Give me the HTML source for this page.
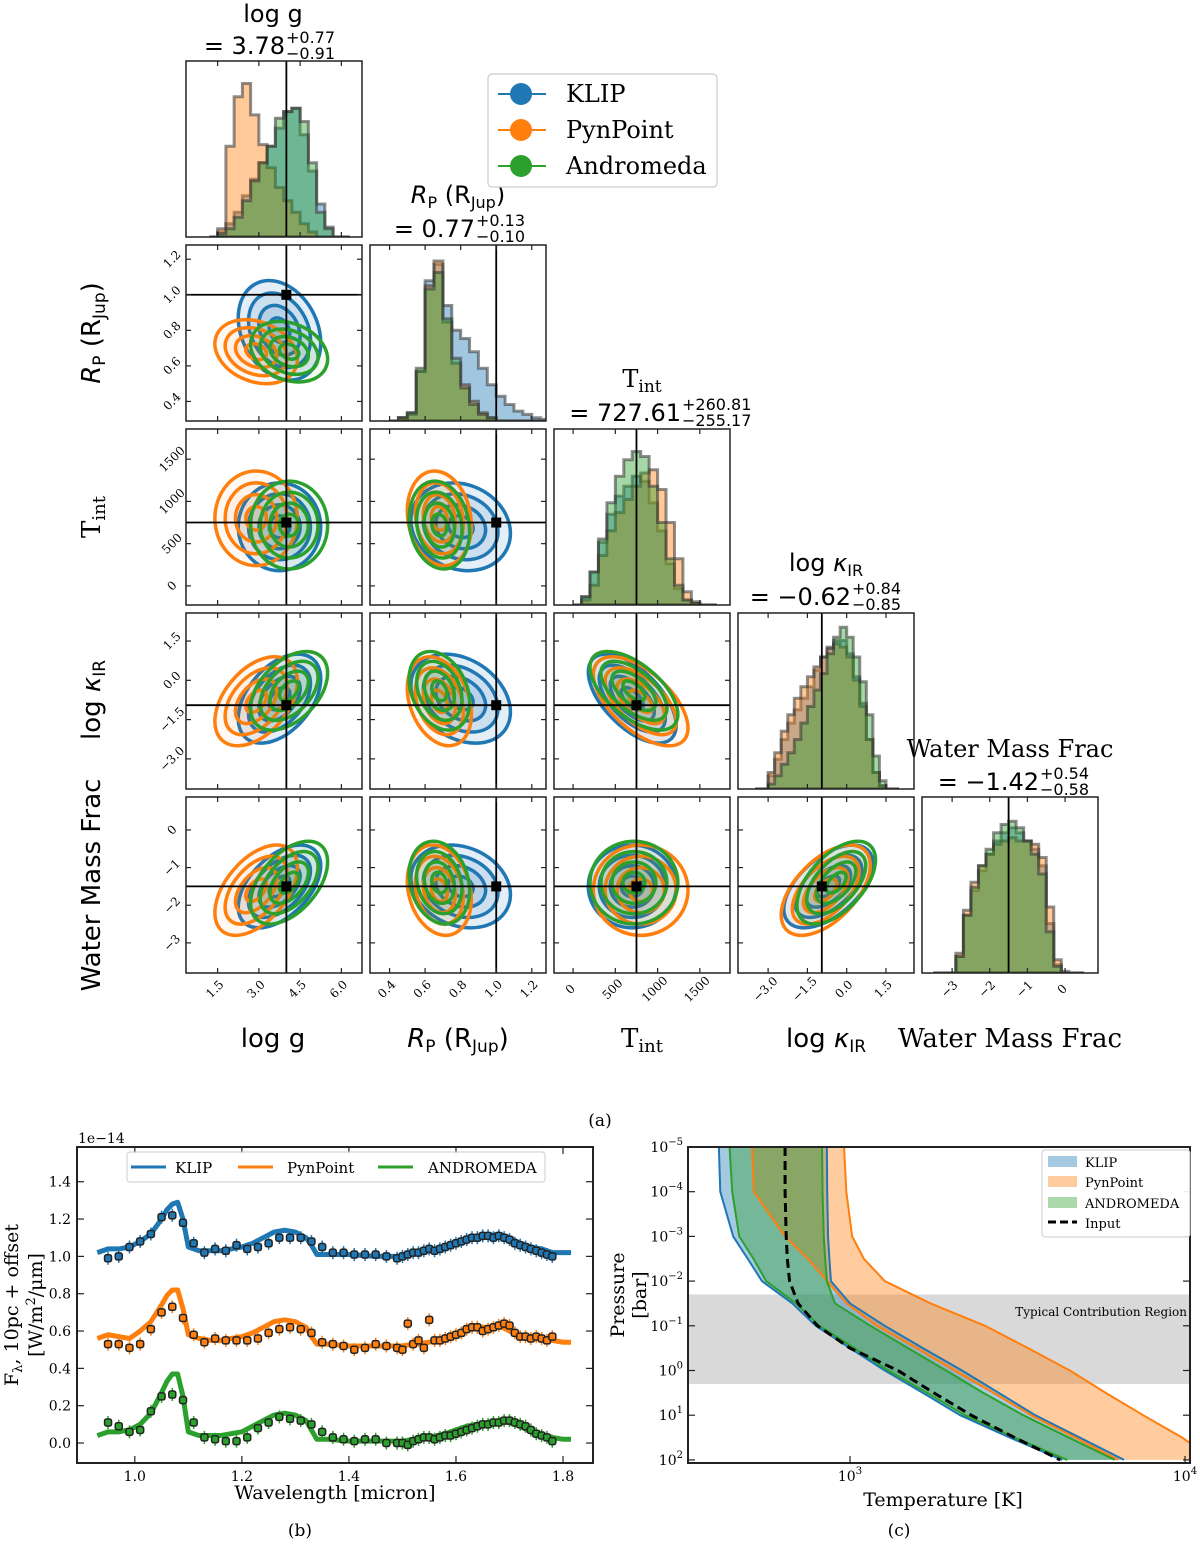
<!DOCTYPE html>
<html><head><meta charset="utf-8"><style>
html,body{margin:0;padding:0;background:#fff}
svg{display:block}
.s{font-family:"DejaVu Sans","Liberation Sans",sans-serif}
.sf{font-family:"DejaVu Serif","Liberation Serif",serif}
</style></head><body>
<svg id="fig" width="1200" height="1554" viewBox="0 0 1200 1554" xmlns="http://www.w3.org/2000/svg"></svg>
<script>
// ---------- corner data ----------
const paramNames = ["log g","R_P","T_int","log kappa_IR","Water Mass Frac"];
const ranges = [[0.35,6.75],[0.29,1.28],[-226,1857],[-4.15,2.57],[-3.8,0.875]];
const truths = [4.0,1.0,750,-0.95,-1.5];
const tickVals = [[1.5,3.0,4.5,6.0],[0.4,0.6,0.8,1.0,1.2],[0,500,1000,1500],[-3.0,-1.5,0.0,1.5],[-3,-2,-1,0]];
const tickLabels = [["1.5","3.0","4.5","6.0"],["0.4","0.6","0.8","1.0","1.2"],["0","500","1000","1500"],["−3.0","−1.5","0.0","1.5"],["−3","−2","−1","0"]];
const methods = ["KLIP","PynPoint","Andromeda"];
const colors = ["#1f77b4","#ff7f0e","#2ca02c"];
const muKLIP = [3.75,0.80,700,-0.7,-1.5];
const muPyn = [2.9,0.68,800,-0.8,-1.6];
const muAndro = [4.1,0.68,720,-0.4,-1.4];
const sdKLIP = [0.75,0.14,260,0.85,0.55];
const sdPyn = [0.75,0.09,280,0.85,0.6];
const sdAndro = [0.7,0.085,260,0.75,0.55];
const rhoPairs = [[0,1,-0.25],[0,2,0.0],[0,3,0.45],[0,4,0.5],[1,2,-0.15],[1,3,-0.3],[1,4,-0.2],[2,3,-0.6],[2,4,0.0],[3,4,0.55]];
const histStart = [1.2,0.4,0,-3.5,-3.5];
const histStep = [0.3,0.05,100,0.25,0.2];
const histKLIP = [
 [0,0.03,0.08,0.15,0.25,0.35,0.45,0.55,0.66,0.76,0.78,0.62,0.4,0.2,0.06,0,0],
 [0,0.02,0.05,0.3,0.85,0.95,0.7,0.55,0.5,0.42,0.32,0.22,0.15,0.1,0.06,0.04,0.02,0.01],
 [0,0.05,0.2,0.38,0.55,0.66,0.72,0.78,0.75,0.62,0.45,0.25,0.1,0.03,0.01,0,0],
 [0,0,0.08,0.18,0.3,0.4,0.48,0.55,0.62,0.72,0.8,0.86,0.9,0.9,0.82,0.68,0.52,0.3,0.1,0.02,0,0],
 [0,0,0,0.1,0.35,0.5,0.62,0.72,0.8,0.85,0.88,0.85,0.8,0.75,0.65,0.3,0.05,0,0,0]];
const histPyn = [
 [0,0.05,0.55,0.85,0.93,0.74,0.56,0.42,0.3,0.22,0.15,0.08,0.03,0,0,0,0],
 [0,0.02,0.04,0.3,0.82,0.97,0.6,0.35,0.22,0.12,0.05,0.02,0,0,0,0,0,0],
 [0,0.03,0.12,0.3,0.45,0.56,0.64,0.72,0.80,0.82,0.7,0.5,0.28,0.08,0.02,0,0],
 [0,0,0.1,0.22,0.35,0.45,0.55,0.62,0.68,0.74,0.8,0.85,0.88,0.86,0.8,0.66,0.5,0.3,0.1,0.02,0,0],
 [0,0,0,0.12,0.38,0.55,0.65,0.72,0.78,0.8,0.82,0.8,0.8,0.78,0.7,0.4,0.08,0.01,0,0]];
const histAndro = [
 [0,0.02,0.05,0.12,0.22,0.34,0.45,0.55,0.72,0.76,0.78,0.7,0.45,0.15,0.05,0,0],
 [0,0.02,0.05,0.32,0.8,0.9,0.62,0.38,0.2,0.1,0.04,0.02,0,0,0,0,0,0],
 [0,0.05,0.2,0.4,0.62,0.78,0.88,0.93,0.9,0.72,0.5,0.28,0.12,0.03,0.01,0,0],
 [0,0,0.03,0.08,0.15,0.22,0.3,0.4,0.5,0.6,0.7,0.82,0.92,0.98,0.92,0.8,0.65,0.45,0.2,0.05,0,0],
 [0,0,0,0.1,0.35,0.52,0.65,0.75,0.85,0.9,0.92,0.88,0.8,0.72,0.6,0.25,0.04,0,0,0]];
const contourLevels = [0.5,1.0,1.5,2.0];

// ---------- spectrum data ----------
const modelWl = [0.93,0.95,0.97,0.99,1.01,1.03,1.05,1.06,1.07,1.08,1.09,1.10,1.12,1.14,1.16,1.18,1.20,1.22,1.24,1.26,1.28,1.30,1.32,1.33,1.34,1.36,1.40,1.45,1.50,1.52,1.55,1.58,1.60,1.62,1.64,1.66,1.68,1.70,1.72,1.74,1.76,1.78,1.80,1.815];
const modelKLIP = [1.02,1.04,1.04,1.05,1.08,1.12,1.20,1.25,1.28,1.29,1.20,1.05,1.03,1.03,1.03,1.04,1.05,1.07,1.10,1.13,1.14,1.13,1.10,1.06,1.01,1.01,1.01,1.0,1.0,1.02,1.03,1.05,1.07,1.09,1.10,1.11,1.12,1.10,1.07,1.05,1.04,1.02,1.02,1.02];
const modelPyn = [0.56,0.58,0.57,0.56,0.6,0.65,0.74,0.79,0.82,0.82,0.72,0.58,0.56,0.55,0.55,0.56,0.57,0.59,0.62,0.65,0.66,0.65,0.62,0.57,0.53,0.53,0.52,0.52,0.52,0.53,0.54,0.56,0.58,0.61,0.62,0.62,0.63,0.6,0.57,0.57,0.56,0.55,0.54,0.54];
const modelAndro = [0.04,0.06,0.06,0.07,0.1,0.16,0.27,0.33,0.37,0.37,0.25,0.06,0.04,0.04,0.04,0.05,0.06,0.09,0.12,0.15,0.16,0.15,0.12,0.07,0.02,0.02,0.01,0.01,0.01,0.02,0.03,0.05,0.07,0.09,0.1,0.11,0.12,0.11,0.09,0.06,0.04,0.03,0.02,0.02];
const ptsWl = [0.95,0.97,0.99,1.01,1.03,1.05,1.07,1.09,1.11,1.13,1.15,1.17,1.19,1.21,1.23,1.25,1.27,1.29,1.31,1.33,1.35,1.37,1.39,1.41,1.43,1.45,1.47,1.49,
 1.50,1.51,1.52,1.53,1.54,1.55,1.56,1.57,1.58,1.59,1.60,1.61,1.62,1.63,1.64,1.65,1.66,1.67,1.68,1.69,1.70,1.71,1.72,1.73,1.74,1.75,1.76,1.77,1.78];
const ptsKLIP = [0.99,1.0,1.05,1.08,1.12,1.21,1.22,1.18,1.07,1.02,1.04,1.03,1.06,1.04,1.05,1.07,1.10,1.10,1.10,1.08,1.05,1.02,1.02,1.01,1.01,1.01,1.0,0.99,
 1.0,1.01,1.02,1.02,1.03,1.04,1.03,1.04,1.05,1.06,1.07,1.08,1.09,1.10,1.10,1.11,1.11,1.10,1.11,1.10,1.09,1.07,1.06,1.05,1.04,1.03,1.02,1.01,1.0];
const ptsPyn = [0.53,0.53,0.51,0.53,0.61,0.70,0.73,0.67,0.58,0.54,0.56,0.55,0.55,0.55,0.56,0.59,0.61,0.62,0.61,0.59,0.54,0.53,0.52,0.50,0.51,0.53,0.52,0.51,
 0.50,0.64,0.53,0.55,0.51,0.66,0.55,0.55,0.56,0.57,0.58,0.59,0.61,0.62,0.62,0.60,0.61,0.62,0.63,0.64,0.63,0.59,0.57,0.57,0.56,0.57,0.56,0.55,0.57];
const ptsAndro = [0.11,0.09,0.06,0.07,0.17,0.25,0.26,0.23,0.11,0.03,0.02,0.01,0.01,0.03,0.08,0.11,0.14,0.13,0.12,0.10,0.06,0.03,0.02,0.01,0.02,0.02,0.0,0.0,
 0.0,-0.01,0.01,0.02,0.03,0.03,0.02,0.03,0.04,0.04,0.05,0.06,0.07,0.08,0.09,0.10,0.10,0.11,0.11,0.12,0.12,0.11,0.10,0.09,0.07,0.05,0.04,0.03,0.01];
const specYTicks = [0.0,0.2,0.4,0.6,0.8,1.0,1.2,1.4];
const specXTicks = [1.0,1.2,1.4,1.6,1.8];

// ---------- P-T data ----------
const ptLogP = [-5,-4,-3,-2.5,-2,-1.5,-1,-0.5,0,0.5,1,1.5,2];
const inputT = [640,640,645,650,660,700,800,1000,1390,1780,2300,3100,4240];
const klipLo = [406,410,448,495,546,673,790,1000,1270,1650,2130,3000,4300];
const klipHi = [853,855,860,868,877,1000,1270,1650,2160,2780,3570,4850,6580];
const pynLo = [510,516,640,748,855,977,1203,1580,2050,2680,3470,4700,6310];
const pynHi = [960,975,1015,1100,1270,1740,2530,3400,4530,5800,7500,9800,12300];
const andLo = [437,445,467,515,562,690,810,1030,1300,1700,2200,3100,4450];
const andHi = [825,828,835,843,853,902,1150,1490,1935,2500,3290,4500,6170];
const ptXTicks = [3,4];
const ptYTicks = [-5,-4,-3,-2,-1,0,1,2];

const NS = "http://www.w3.org/2000/svg";
const svg = document.getElementById("fig");
function el(tag, attrs, parent) {
  const e = document.createElementNS(NS, tag);
  for (const k in attrs) e.setAttribute(k, attrs[k]);
  (parent || svg).appendChild(e);
  return e;
}
function txt(str, attrs, parent) { const t = el("text", attrs, parent); t.textContent = str; return t; }

// ---------- corner plot ----------
const colX = [186,370,554,738,922], rowY = [61,245,429,613,797], PS = 176;
const mus = [muKLIP, muPyn, muAndro], sds = [sdKLIP, sdPyn, sdAndro], hists = [histKLIP, histPyn, histAndro];
function xmap(p, v) { return colX[p] + (v - ranges[p][0]) / (ranges[p][1] - ranges[p][0]) * PS; }
function ymap(p, v) { return rowY[p] + PS - (v - ranges[p][0]) / (ranges[p][1] - ranges[p][0]) * PS; }
function rho(i, j) { for (const r of rhoPairs) if ((r[0]===i&&r[1]===j)||(r[0]===j&&r[1]===i)) return r[2]; return 0; }

const defs = el("defs", {});
for (let r = 0; r < 5; r++) for (let c = 0; c <= r; c++) {
  const cp = el("clipPath", {id: "cp"+r+"_"+c}, defs);
  el("rect", {x: colX[c], y: rowY[r], width: PS, height: PS}, cp);
}

for (let r = 0; r < 5; r++) {
  for (let c = 0; c <= r; c++) {
    const g = el("g", {"clip-path": "url(#cp"+r+"_"+c+")"});
    
    
    if (r === c) {
      for (let m = 0; m < 3; m++) {
        const h = hists[m][r];
        const base = rowY[r] + PS;
        let d = "M" + xmap(r, histStart[r]) + "," + base;
        for (let b = 0; b < h.length; b++) {
          const x0 = xmap(r, histStart[r] + b*histStep[r]), x1 = xmap(r, histStart[r] + (b+1)*histStep[r]);
          const y = base - h[b]*165;
          d += " L" + x0 + "," + y + " L" + x1 + "," + y;
        }
        d += " L" + xmap(r, histStart[r] + h.length*histStep[r]) + "," + base + " Z";
        const p = el("path", {d: d, fill: colors[m], "fill-opacity": 0.42, stroke: "#333", "stroke-opacity": 0.55, "stroke-width": 3}, g);
        
        
      }
      el("line", {x1: xmap(r, truths[r]), x2: xmap(r, truths[r]), y1: rowY[r], y2: rowY[r]+PS, stroke: "#000", "stroke-width": 1.8}, g);
    } else {
      for (let m = 0; m < 3; m++) {
        const kx = PS/(ranges[c][1]-ranges[c][0]), ky = PS/(ranges[r][1]-ranges[r][0]);
        const sx = sds[m][c]*kx, sy = sds[m][r]*ky, rr = -rho(c, r);
        const a = sx*sx, dd = sy*sy, cc = rr*sx*sy;
        const tr = (a+dd)/2, df = Math.sqrt(((a-dd)/2)**2 + cc*cc);
        const l1 = tr+df, l2 = Math.max(tr-df, 1);
        const th = 0.5*Math.atan2(2*cc, a-dd)*180/Math.PI;
        const cx = xmap(c, mus[m][c]), cy = ymap(r, mus[m][r]);
        for (let k = contourLevels.length-1; k >= 0; k--) {
          const lv = contourLevels[k];
          const e = el("ellipse", {cx: cx, cy: cy, rx: lv*Math.sqrt(l1), ry: lv*Math.sqrt(l2),
            transform: "rotate("+th+" "+cx+" "+cy+")", fill: colors[m], "fill-opacity": m===0?0.12:0.05,
            stroke: colors[m], "stroke-width": 3.5}, g);
          
          
        }
      }
      const tx = xmap(c, truths[c]), ty = ymap(r, truths[r]);
      el("line", {x1: tx, x2: tx, y1: rowY[r], y2: rowY[r]+PS, stroke: "#000", "stroke-width": 1.8}, g);
      el("line", {x1: colX[c], x2: colX[c]+PS, y1: ty, y2: ty, stroke: "#000", "stroke-width": 1.8}, g);
      el("rect", {x: tx-5, y: ty-5, width: 10, height: 10, fill: "#000"}, g);
    }
    const fr = el("rect", {x: colX[c], y: rowY[r], width: PS, height: PS, fill: "none", stroke: "#222", "stroke-width": 1.5});
    
    
    for (const tv of tickVals[c]) {
      const x = xmap(c, tv);
      el("line", {x1: x, x2: x, y1: rowY[r]+PS, y2: rowY[r]+PS-5, stroke: "#222", "stroke-width": 1.2});
      el("line", {x1: x, x2: x, y1: rowY[r], y2: rowY[r]+5, stroke: "#222", "stroke-width": 1.2});
    }
    if (r !== c) for (const tv of tickVals[r]) {
      const y = ymap(r, tv);
      el("line", {x1: colX[c], x2: colX[c]+5, y1: y, y2: y, stroke: "#222", "stroke-width": 1.2});
      el("line", {x1: colX[c]+PS, x2: colX[c]+PS-5, y1: y, y2: y, stroke: "#222", "stroke-width": 1.2});
    }
  }
}
for (let c = 0; c < 5; c++) tickVals[c].forEach((tv, i) => {
  const x = xmap(c, tv), y = 992;
  const t = txt(tickLabels[c][i], {x: x, y: y, "font-size": 12, "text-anchor": "middle", class: "sf", transform: "rotate(-45 "+x+" "+y+")"});
  
  
});
for (let r = 1; r < 5; r++) tickVals[r].forEach((tv, i) => {
  const y = ymap(r, tv), x = 172;
  const t = txt(tickLabels[r][i], {x: x, y: y+4, "font-size": 12, "text-anchor": "middle", class: "sf", transform: "rotate(-45 "+x+" "+y+")"});
  
  
});
</script>
<script>
(function(){
  const svg = document.getElementById("fig");
  const ins = (s) => svg.insertAdjacentHTML("beforeend", s);
  function title(x0, y, main, sup, sub) {
    return `<g class="s">
      <text x="${x0}" y="${y}" font-size="24" text-anchor="end">${main}</text>
      <text x="${x0+1}" y="${y-11}" font-size="16">${sup}</text>
      <text x="${x0+1}" y="${y+5}" font-size="16">${sub}</text></g>`;
  }
  ins(`<g font-size="26">
    <text class="s" x="273" y="1047" text-anchor="middle">log g</text>
    <text class="s" x="458" y="1047" text-anchor="middle"><tspan font-style="italic">R</tspan><tspan font-size="17" dy="5">P</tspan><tspan dy="-5"> (R</tspan><tspan font-size="17" dy="5">Jup</tspan><tspan dy="-5">)</tspan></text>
    <text class="sf" x="642" y="1047" text-anchor="middle">T<tspan font-size="18" dy="5">int</tspan></text>
    <text class="s" x="826" y="1047" text-anchor="middle">log <tspan font-style="italic">κ</tspan><tspan font-size="17" dy="5">IR</tspan></text>
    <text class="sf" x="1010" y="1047" text-anchor="middle">Water Mass Frac</text>
  </g>
  <g font-size="26">
    <text class="s" transform="translate(100 333) rotate(-90)" text-anchor="middle"><tspan font-style="italic">R</tspan><tspan font-size="17" dy="5">P</tspan><tspan dy="-5"> (R</tspan><tspan font-size="17" dy="5">Jup</tspan><tspan dy="-5">)</tspan></text>
    <text class="sf" transform="translate(100 517) rotate(-90)" text-anchor="middle">T<tspan font-size="18" dy="5">int</tspan></text>
    <text class="s" transform="translate(100 700) rotate(-90)" text-anchor="middle">log <tspan font-style="italic">κ</tspan><tspan font-size="17" dy="5">IR</tspan></text>
    <text class="s" transform="translate(100 885) rotate(-90)" text-anchor="middle">Water Mass Frac</text>
  </g>
  <g font-size="24">
    <text class="s" x="273" y="22" text-anchor="middle">log g</text>
    <text class="s" x="458" y="203" text-anchor="middle"><tspan font-style="italic">R</tspan><tspan font-size="16" dy="5">P</tspan><tspan dy="-5"> (R</tspan><tspan font-size="16" dy="5">Jup</tspan><tspan dy="-5">)</tspan></text>
    <text class="sf" x="642" y="387" text-anchor="middle">T<tspan font-size="17" dy="5">int</tspan></text>
    <text class="s" x="826" y="571" text-anchor="middle">log <tspan font-style="italic">κ</tspan><tspan font-size="16" dy="5">IR</tspan></text>
    <text class="sf" x="1010" y="757" text-anchor="middle">Water Mass Frac</text>
  </g>
  ${title(285,54,"= 3.78","+0.77","−0.91")}
  ${title(475,237,"= 0.77","+0.13","−0.10")}
  ${title(681,421,"= 727.61","+260.81","−255.17")}
  ${title(851,605,"= −0.62","+0.84","−0.85")}
  ${title(1039,790,"= −1.42","+0.54","−0.58")}
  <g>
    <rect x="488" y="74" width="229" height="113" rx="4" fill="#fff" stroke="#ccc" stroke-width="1.2"/>
    <line x1="498" x2="546" y1="94" y2="94" stroke="#1f77b4" stroke-width="2"/><circle cx="521" cy="94" r="11" fill="#1f77b4"/>
    <text class="sf" x="566" y="102" font-size="24">KLIP</text>
    <line x1="498" x2="546" y1="130" y2="130" stroke="#ff7f0e" stroke-width="2"/><circle cx="521" cy="130" r="11" fill="#ff7f0e"/>
    <text class="sf" x="566" y="138" font-size="24">PynPoint</text>
    <line x1="498" x2="546" y1="166" y2="166" stroke="#2ca02c" stroke-width="2"/><circle cx="521" cy="166" r="11" fill="#2ca02c"/>
    <text class="sf" x="566" y="174" font-size="24">Andromeda</text>
  </g>
  <text class="sf" x="600" y="1126" font-size="17" text-anchor="middle">(a)</text>
  <text class="sf" x="300" y="1536" font-size="17" text-anchor="middle">(b)</text>
  <text class="sf" x="899" y="1536" font-size="17" text-anchor="middle">(c)</text>`);
})();
</script>
<script>
(function(){
  const NS = "http://www.w3.org/2000/svg", svg = document.getElementById("fig");
  function el(tag, a, p){const e=document.createElementNS(NS,tag);for(const k in a)e.setAttribute(k,a[k]);(p||svg).appendChild(e);return e;}
  const L=77,R=593,T=1147,B=1463, x0=0.892,x1=1.856,y0=-0.107,y1=1.586;
  const sx=v=>L+(v-x0)/(x1-x0)*(R-L), sy=v=>B-(v-y0)/(y1-y0)*(B-T);
  const g = el("g",{});
  
  
  const models=[modelKLIP,modelPyn,modelAndro], pts=[ptsKLIP,ptsPyn,ptsAndro];
  const names=["klip","pynpoint","andromeda"];
  for(let m=0;m<3;m++){
    const pl = el("polyline",{points: modelWl.map((w,i)=>sx(w)+","+sy(models[m][i])).join(" "), fill:"none", stroke:colors[m], "stroke-width":5, "stroke-linejoin":"round"}, g);
    
    
    ptsWl.forEach((w,i)=>{
      const x=sx(w), y=sy(pts[m][i]);
      el("line",{x1:x,x2:x,y1:sy(pts[m][i]+0.035),y2:sy(pts[m][i]-0.035),stroke:colors[m],"stroke-width":1.5},g);
      const c = el("rect",{x:x-3.5,y:y-3.5,width:7,height:7,rx:2,fill:colors[m],stroke:"#222","stroke-width":1.5},g);
      
      
    });
  }
  el("rect",{x:L,y:T,width:R-L,height:B-T,fill:"none",stroke:"#222","stroke-width":2});
  specYTicks.forEach(v=>{const y=sy(v);
    el("line",{x1:L,x2:L+7,y1:y,y2:y,stroke:"#222","stroke-width":1.2});el("line",{x1:R,x2:R-7,y1:y,y2:y,stroke:"#222","stroke-width":1.2});
    const t=el("text",{x:L-6,y:y+5,"font-size":14,"text-anchor":"end",class:"sf"});t.textContent=v.toFixed(1);
    });
  specXTicks.forEach(v=>{const x=sx(v);
    el("line",{x1:x,x2:x,y1:B,y2:B-7,stroke:"#222","stroke-width":1.2});el("line",{x1:x,x2:x,y1:T,y2:T+7,stroke:"#222","stroke-width":1.2});
    const t=el("text",{x:x,y:B+18,"font-size":14,"text-anchor":"middle",class:"sf"});t.textContent=v.toFixed(1);
    });
  svg.insertAdjacentHTML("beforeend",`
   <text class="sf" x="78" y="1143" font-size="14">1e−14</text>
   <text class="sf" x="335" y="1499" font-size="19" text-anchor="middle">Wavelength [micron]</text>
   <text class="sf" transform="translate(18 1305) rotate(-90)" font-size="19" text-anchor="middle">F<tspan font-size="13" dy="4">λ</tspan><tspan dy="-4">, 10pc + offset</tspan></text>
   <text class="sf" transform="translate(42 1305) rotate(-90)" font-size="19" text-anchor="middle">[W/m<tspan font-size="13" dy="-7">2</tspan><tspan dy="7">/μm]</tspan></text>
   <g>
    <rect x="127" y="1152" width="418" height="30" rx="3" fill="#fff" fill-opacity="0.85" stroke="#ccc"/>
    <line x1="131" x2="166" y1="1167" y2="1167" stroke="#1f77b4" stroke-width="3"/><text class="sf" x="175" y="1173" font-size="15">KLIP</text>
    <line x1="238" x2="273" y1="1167" y2="1167" stroke="#ff7f0e" stroke-width="3"/><text class="sf" x="287" y="1173" font-size="15">PynPoint</text>
    <line x1="378" x2="413" y1="1167" y2="1167" stroke="#2ca02c" stroke-width="3"/><text class="sf" x="428" y="1173" font-size="15">ANDROMEDA</text>
   </g>`);
})();
</script>
<script>
(function(){
  const NS = "http://www.w3.org/2000/svg", svg = document.getElementById("fig");
  function el(tag, a, p){const e=document.createElementNS(NS,tag);for(const k in a)e.setAttribute(k,a[k]);(p||svg).appendChild(e);return e;}
  const L=688,R=1190,T=1147,B=1463;
  const sx=t=>850+(Math.log10(t)-3)*335, sy=lp=>T+(lp+5)*44.7;
  const cp=el("clipPath",{id:"ptclip"},svg.querySelector("defs")); el("rect",{x:L,y:T,width:R-L,height:B-T},cp);
  const g=el("g",{"clip-path":"url(#ptclip)"});
  
  
  const band=el("rect",{x:L,y:sy(-1.7),width:R-L,height:sy(0.3)-sy(-1.7),fill:"#d9d9d9"},g);
  
  
  const sets=[[klipLo,klipHi,"#1f77b4","klip"],[pynLo,pynHi,"#ff7f0e","pynpoint"],[andLo,andHi,"#2ca02c","andromeda"]];
  sets.forEach(s=>{
    const up=ptLogP.map((p,i)=>sx(s[0][i])+","+sy(p)), dn=ptLogP.map((p,i)=>sx(s[1][i])+","+sy(p)).reverse();
    const pg=el("polygon",{points:up.concat(dn).join(" "),fill:s[2],"fill-opacity":0.4},g);
    
    
  });
  sets.forEach(s=>{
    [s[0],s[1]].forEach(arr=>{
      el("polyline",{points:ptLogP.map((p,i)=>sx(arr[i])+","+sy(p)).join(" "),fill:"none",stroke:s[2],"stroke-width":2,"stroke-linejoin":"round"},g);
    });
  });
  const inp=el("polyline",{points:ptLogP.map((p,i)=>sx(inputT[i])+","+sy(p)).join(" "),fill:"none",stroke:"#000","stroke-width":3,"stroke-dasharray":"9,5"},g);
  
  
  el("rect",{x:L,y:T,width:R-L,height:B-T,fill:"none",stroke:"#222","stroke-width":2});
  ptYTicks.forEach(p=>{const y=sy(p);
    el("line",{x1:L,x2:L+7,y1:y,y2:y,stroke:"#222","stroke-width":1.2});el("line",{x1:R,x2:R-7,y1:y,y2:y,stroke:"#222","stroke-width":1.2});
    const t=el("text",{x:L-5,y:y+5,"font-size":14,"text-anchor":"end",class:"sf"});
    t.innerHTML="10<tspan font-size='10' dy='-7'>"+(p<0?"−"+(-p):p)+"</tspan>";
    });
  ptXTicks.forEach(d=>{const x=850+(d-3)*335;
    el("line",{x1:x,x2:x,y1:B,y2:B-7,stroke:"#222","stroke-width":1.2});
    const t=el("text",{x:x,y:B+18,"font-size":14,"text-anchor":"middle",class:"sf"});
    t.innerHTML="10<tspan font-size='10' dy='-7'>"+d+"</tspan>";
    });
  svg.insertAdjacentHTML("beforeend",`
   <text class="sf" x="1187" y="1316" font-size="12" text-anchor="end">Typical Contribution Region</text>
   <text class="sf" x="943" y="1506" font-size="19" text-anchor="middle">Temperature [K]</text>
   <text class="sf" transform="translate(624 1295) rotate(-90)" font-size="19" text-anchor="middle">Pressure</text>
   <text class="sf" transform="translate(646 1295) rotate(-90)" font-size="19" text-anchor="middle">[bar]</text>
   <g>
    <rect x="1042" y="1150" width="148" height="87" rx="3" fill="#fff" fill-opacity="0.9" stroke="#ccc"/>
    <rect x="1048" y="1156" width="29" height="11" fill="#1f77b4" fill-opacity="0.4"/><text class="sf" x="1085" y="1167" font-size="13">KLIP</text>
    <rect x="1048" y="1176" width="29" height="11" fill="#ff7f0e" fill-opacity="0.4"/><text class="sf" x="1085" y="1187" font-size="13">PynPoint</text>
    <rect x="1048" y="1197" width="29" height="11" fill="#2ca02c" fill-opacity="0.4"/><text class="sf" x="1085" y="1208" font-size="13">ANDROMEDA</text>
    <line x1="1048" x2="1077" y1="1222" y2="1222" stroke="#000" stroke-width="3" stroke-dasharray="8,4"/><text class="sf" x="1085" y="1228" font-size="13">Input</text>
   </g>`);
})();
</script>
</body></html>
